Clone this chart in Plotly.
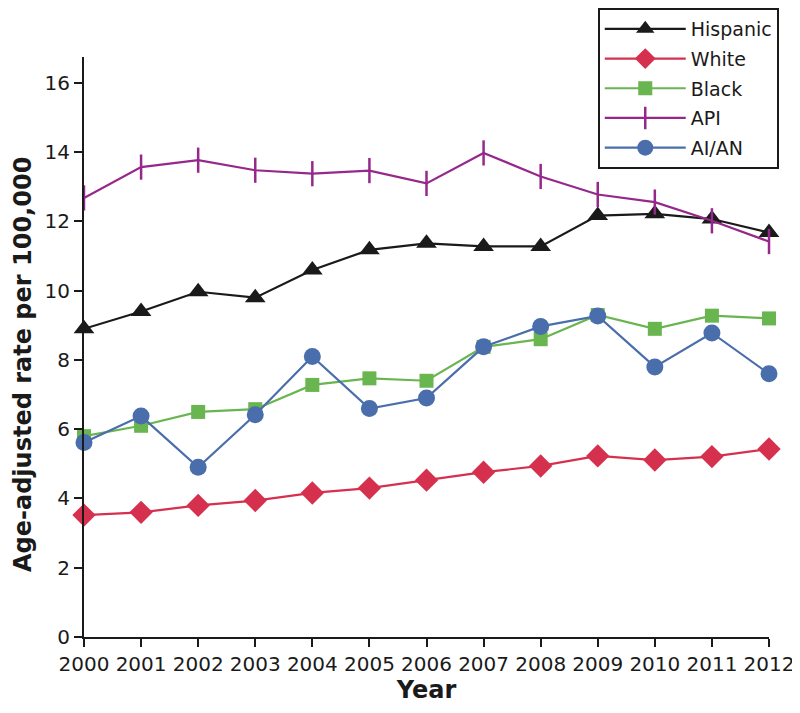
import plotly.graph_objects as go

years = [2000, 2001, 2002, 2003, 2004, 2005, 2006, 2007, 2008, 2009, 2010, 2011, 2012]
hispanic = [8.9, 9.4, 9.97, 9.8, 10.6, 11.18, 11.37, 11.28, 11.28, 12.17, 12.22, 12.07, 11.68]
white = [3.52, 3.6, 3.8, 3.94, 4.16, 4.3, 4.53, 4.76, 4.94, 5.23, 5.11, 5.21, 5.43]
black = [5.8, 6.1, 6.5, 6.58, 7.28, 7.47, 7.4, 8.38, 8.6, 9.3, 8.9, 9.28, 9.2]
api = [12.68, 13.57, 13.77, 13.48, 13.38, 13.47, 13.1, 13.98, 13.3, 12.78, 12.56, 12.02, 11.42]
aian = [5.62, 6.38, 4.9, 6.42, 8.1, 6.6, 6.9, 8.38, 8.97, 9.27, 7.8, 8.78, 7.6]

series = [
    ("Hispanic", hispanic, "#1a1a1a", "triangle-up", 18),
    ("White", white, "#d6304f", "diamond", 18),
    ("Black", black, "#69b550", "square", 14),
    ("API", api, "#95288a", "line-ns", 18),
    ("AI/AN", aian, "#4a6dab", "circle", 17),
]

FONT = "DejaVu Sans, Liberation Sans, Arial"

fig = go.Figure()
for name, vals, color, sym, size in series:
    marker = dict(symbol=sym, size=size, color=color)
    if sym == "line-ns":
        marker["line"] = dict(color=color, width=2.5)
    else:
        marker["line"] = dict(width=0)
    fig.add_trace(go.Scatter(x=years, y=vals, name=name, mode="lines+markers",
                             legendgroup=name,
                             line=dict(color=color, width=2.2), marker=marker,
                             cliponaxis=False))

fig.update_layout(
    width=800, height=713,
    margin=dict(l=76, r=39, t=49, b=84, autoexpand=False),
    paper_bgcolor="white", plot_bgcolor="white",
    font=dict(family=FONT, size=19, color="#1a1a1a"),
    showlegend=True,
    legend=dict(x=0.750, y=1.0845, xanchor="left", yanchor="top",
                bgcolor="white", bordercolor="#1a1a1a", borderwidth=2,
                font=dict(size=19, family=FONT), itemwidth=81, tracegroupgap=2),
    xaxis=dict(range=[2000, 2012], tickmode="array", tickvals=years,
               ticktext=[str(y) for y in years], ticks="outside", ticklen=8,
               tickwidth=2, tickcolor="#1a1a1a", showline=True, linecolor="#1a1a1a",
               linewidth=2, showgrid=False, zeroline=False, automargin=False,
               tickfont=dict(size=20, family=FONT),
               title=dict(text="<b>Year</b>", font=dict(size=24, family=FONT), standoff=4)),
    yaxis=dict(range=[0, 16.75], tickvals=[0, 2, 4, 6, 8, 10, 12, 14, 16],
               ticks="outside", ticklen=8, tickwidth=2, tickcolor="#1a1a1a",
               showline=True, linecolor="#1a1a1a", linewidth=2, showgrid=False,
               zeroline=False, automargin=False, tickfont=dict(size=20, family=FONT)),
    annotations=[dict(text="<b>Age-adjusted rate per 100,000</b>", textangle=-90,
                      xref="paper", yref="paper", x=-0.089, y=0.469,
                      xanchor="center", yanchor="middle", showarrow=False,
                      font=dict(size=24, family=FONT, color="#1a1a1a"))],
)

fig.write_html("out.html")
